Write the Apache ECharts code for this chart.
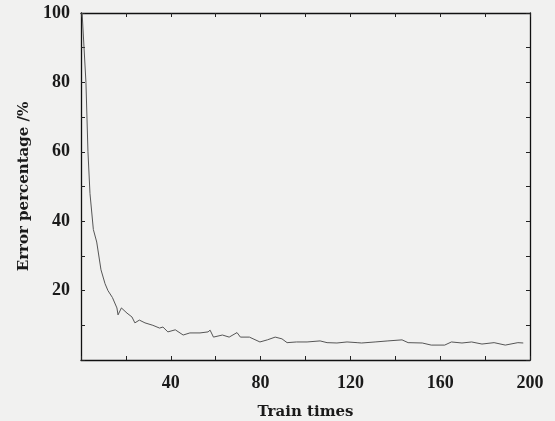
<!DOCTYPE html>
<html>
<head>
<meta charset="utf-8">
<script src="https://cdn.jsdelivr.net/npm/echarts@6/dist/echarts.min.js"></script>
<style>
html,body{margin:0;padding:0;background:#f1f1f0;}
#c{width:555px;height:421px;}
</style>
</head>
<body>
<div id="c"></div>
<script>
var trainTimes = [0.5, 2.2, 3.1, 4, 5.5, 7, 8.9, 10.7, 12, 14, 16, 16.5, 18, 20.5, 22.7, 24, 26, 28.5, 32, 35, 36.5, 38.7, 42, 45.5, 48.5, 53, 56.6, 57.5, 59, 63, 66, 69.5, 71, 75, 79.7, 83, 86.5, 89.5, 91.8, 96, 100.7, 106.5, 109.6, 114, 118.5, 123, 125, 131, 136.7, 143, 145.7, 152, 156, 162, 165, 169.7, 174, 178.6, 184, 189, 194.6, 197];
var errorPct = [100, 80, 60, 48, 37.6, 34, 26, 22, 20, 18, 15, 13, 15, 13.5, 12.4, 10.7, 11.5, 10.7, 10, 9.2, 9.5, 8.1, 8.7, 7.2, 7.8, 7.8, 8.1, 8.6, 6.6, 7.2, 6.6, 7.9, 6.6, 6.6, 5.2, 5.8, 6.6, 6.1, 5, 5.2, 5.2, 5.5, 5, 4.9, 5.2, 5, 4.9, 5.2, 5.5, 5.8, 5, 4.9, 4.3, 4.3, 5.2, 4.9, 5.2, 4.6, 5, 4.3, 5, 4.9];
var xTickLabels = [40, 80, 120, 160, 200];
var yTickLabels = [20, 40, 60, 80, 100];

var pts = trainTimes.map(function (t, i) { return [t, errorPct[i]]; });
var font = '"Liberation Serif", "DejaVu Serif", serif';
var titleFont = '"DejaVu Serif", serif';
var axisLine = { show: true, onZero: false, lineStyle: { color: '#111', width: 1.3 } };
var tick = { show: true, inside: true, length: 4, lineStyle: { color: '#222', width: 1 } };

var chart = echarts.init(document.getElementById('c'));
chart.setOption({
  backgroundColor: '#f1f1f0',
  animation: false,
  grid: { left: 81, right: 25, top: 13, bottom: 61, outerBoundsMode: 'none', containLabel: false },
  xAxis: [{
    type: 'value', min: 0, max: 200, interval: 20, position: 'bottom',
    name: 'Train times', nameLocation: 'middle', nameGap: 45,
    nameTextStyle: { fontFamily: titleFont, fontSize: 15, fontWeight: 'bold', color: '#1a1a1a' },
    axisLine: axisLine, axisTick: tick, splitLine: { show: false },
    axisLabel: {
      margin: 14, fontFamily: font, fontSize: 18, fontWeight: 'bold', color: '#1a1a1a',
      formatter: function (v) { return xTickLabels.indexOf(v) >= 0 ? String(v) : ''; }
    }
  }, {
    type: 'value', min: 0, max: 200, interval: 20, position: 'top',
    axisLine: axisLine, axisTick: tick, axisLabel: { show: false }, splitLine: { show: false }
  }],
  yAxis: [{
    type: 'value', min: 0, max: 100, interval: 10, position: 'left',
    name: 'Error percentage /%', nameLocation: 'middle', nameGap: 46,
    nameTextStyle: { fontFamily: titleFont, fontSize: 15, fontWeight: 'bold', color: '#1a1a1a' },
    axisLine: axisLine, axisTick: tick, splitLine: { show: false },
    axisLabel: {
      margin: 11, fontFamily: font, fontSize: 18, fontWeight: 'bold', color: '#1a1a1a',
      formatter: function (v) { return yTickLabels.indexOf(v) >= 0 ? String(v) : ''; }
    }
  }, {
    type: 'value', min: 0, max: 100, interval: 10, position: 'right',
    axisLine: axisLine, axisTick: tick, axisLabel: { show: false }, splitLine: { show: false }
  }],
  series: [{
    type: 'line', data: pts, xAxisIndex: 0, yAxisIndex: 0,
    showSymbol: false, symbol: 'none',
    lineStyle: { color: '#555', width: 1 }
  }]
});
</script>
</body>
</html>
